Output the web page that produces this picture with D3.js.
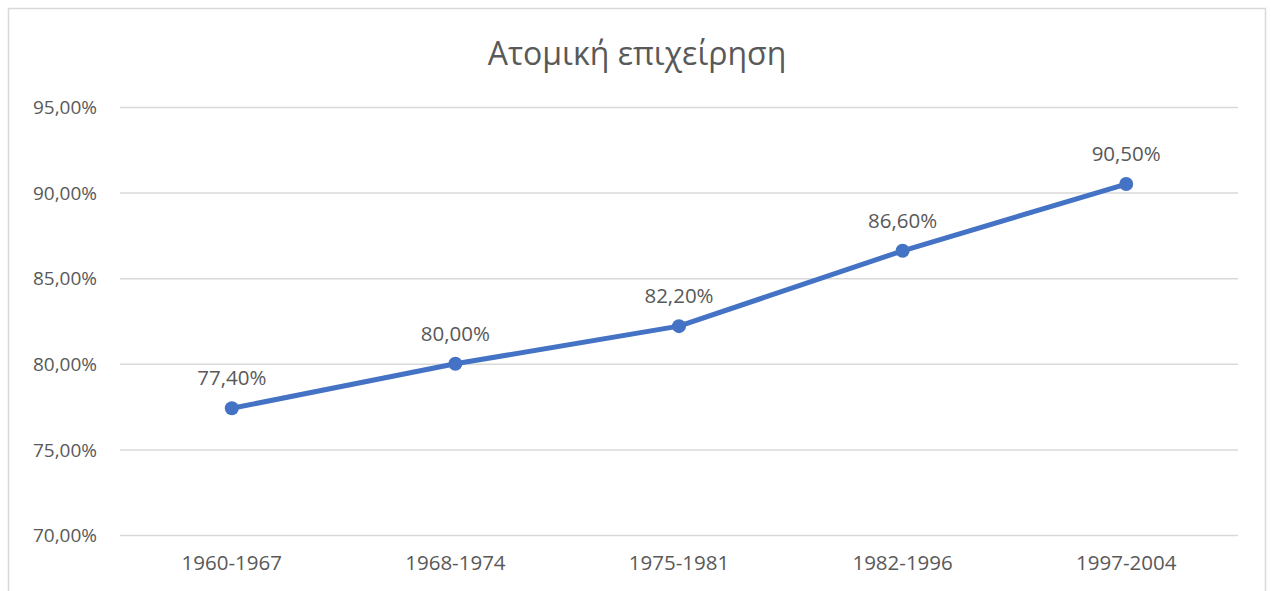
<!DOCTYPE html>
<html>
<head>
<meta charset="utf-8">
<script src="https://cdn.jsdelivr.net/npm/d3@7"></script>
<style>
  body { margin: 0; background: #fff; }
  #canvas text { font-family: "Open Sans", "Noto Sans", sans-serif; fill: #595959; }
</style>
</head>
<body>
<div id="canvas"></div>
<script>
const title = "Ατομική επιχείρηση";
const periods = ["1960-1967", "1968-1974", "1975-1981", "1982-1996", "1997-2004"];
const shares = [77.4, 80.0, 82.2, 86.6, 90.5];
const yTicks = [70, 75, 80, 85, 90, 95];

const W = 1271, H = 591;
const margin = { top: 107, right: 33, bottom: 56, left: 120 };
const width = W - margin.left - margin.right;
const height = H - margin.top - margin.bottom;

const fmt = v => d3.format(".2f")(v).replace(".", ",") + "%";

const root = d3.select("#canvas").append("svg")
  .attr("width", W)
  .attr("height", H);

// chart border
root.append("rect")
  .attr("x", 8.5).attr("y", 8.5)
  .attr("width", 1257).attr("height", 600)
  .attr("fill", "#fff")
  .attr("stroke", "#d9d9d9")
  .attr("stroke-width", 1.5);

root.append("text")
  .attr("x", 637).attr("y", 65)
  .attr("text-anchor", "middle")
  .attr("font-size", 32)
  .text(title);

const svg = root.append("g")
  .attr("transform", "translate(" + margin.left + "," + margin.top + ")");

const x = d3.scaleBand().domain(periods).range([0, width]);
const y = d3.scaleLinear().domain([70, 95]).range([height, 0]);

// grid lines + y labels
const yAxis = svg.append("g")
  .call(d3.axisLeft(y).tickValues(yTicks).tickSize(-width).tickFormat(fmt).tickPadding(23));
yAxis.select(".domain").remove();
yAxis.selectAll(".tick line").attr("stroke", "#d9d9d9").attr("stroke-width", 1.5);
yAxis.selectAll(".tick text").attr("font-size", 19).attr("dy", "0.35em");

// x labels
const xAxis = svg.append("g")
  .attr("transform", "translate(0," + height + ")")
  .call(d3.axisBottom(x).tickSize(0).tickPadding(20));
xAxis.select(".domain").remove();
xAxis.selectAll(".tick text").attr("font-size", 20.5);

const pts = periods.map((p, i) => ({ p: p, v: shares[i] }));
const cx = d => x(d.p) + x.bandwidth() / 2;

svg.append("path")
  .datum(pts)
  .attr("fill", "none")
  .attr("stroke", "#4472C4")
  .attr("stroke-width", 5)
  .attr("stroke-linejoin", "round")
  .attr("d", d3.line().x(cx).y(d => y(d.v)));

svg.selectAll("circle")
  .data(pts)
  .enter()
  .append("circle")
  .attr("cx", cx)
  .attr("cy", d => y(d.v))
  .attr("r", 7)
  .attr("fill", "#4472C4");

svg.selectAll(".lbl")
  .data(pts)
  .enter()
  .append("text")
  .attr("class", "lbl")
  .attr("x", cx)
  .attr("y", d => y(d.v) - 23)
  .attr("text-anchor", "middle")
  .attr("font-size", 20.5)
  .text(d => fmt(d.v));
</script>
</body>
</html>
